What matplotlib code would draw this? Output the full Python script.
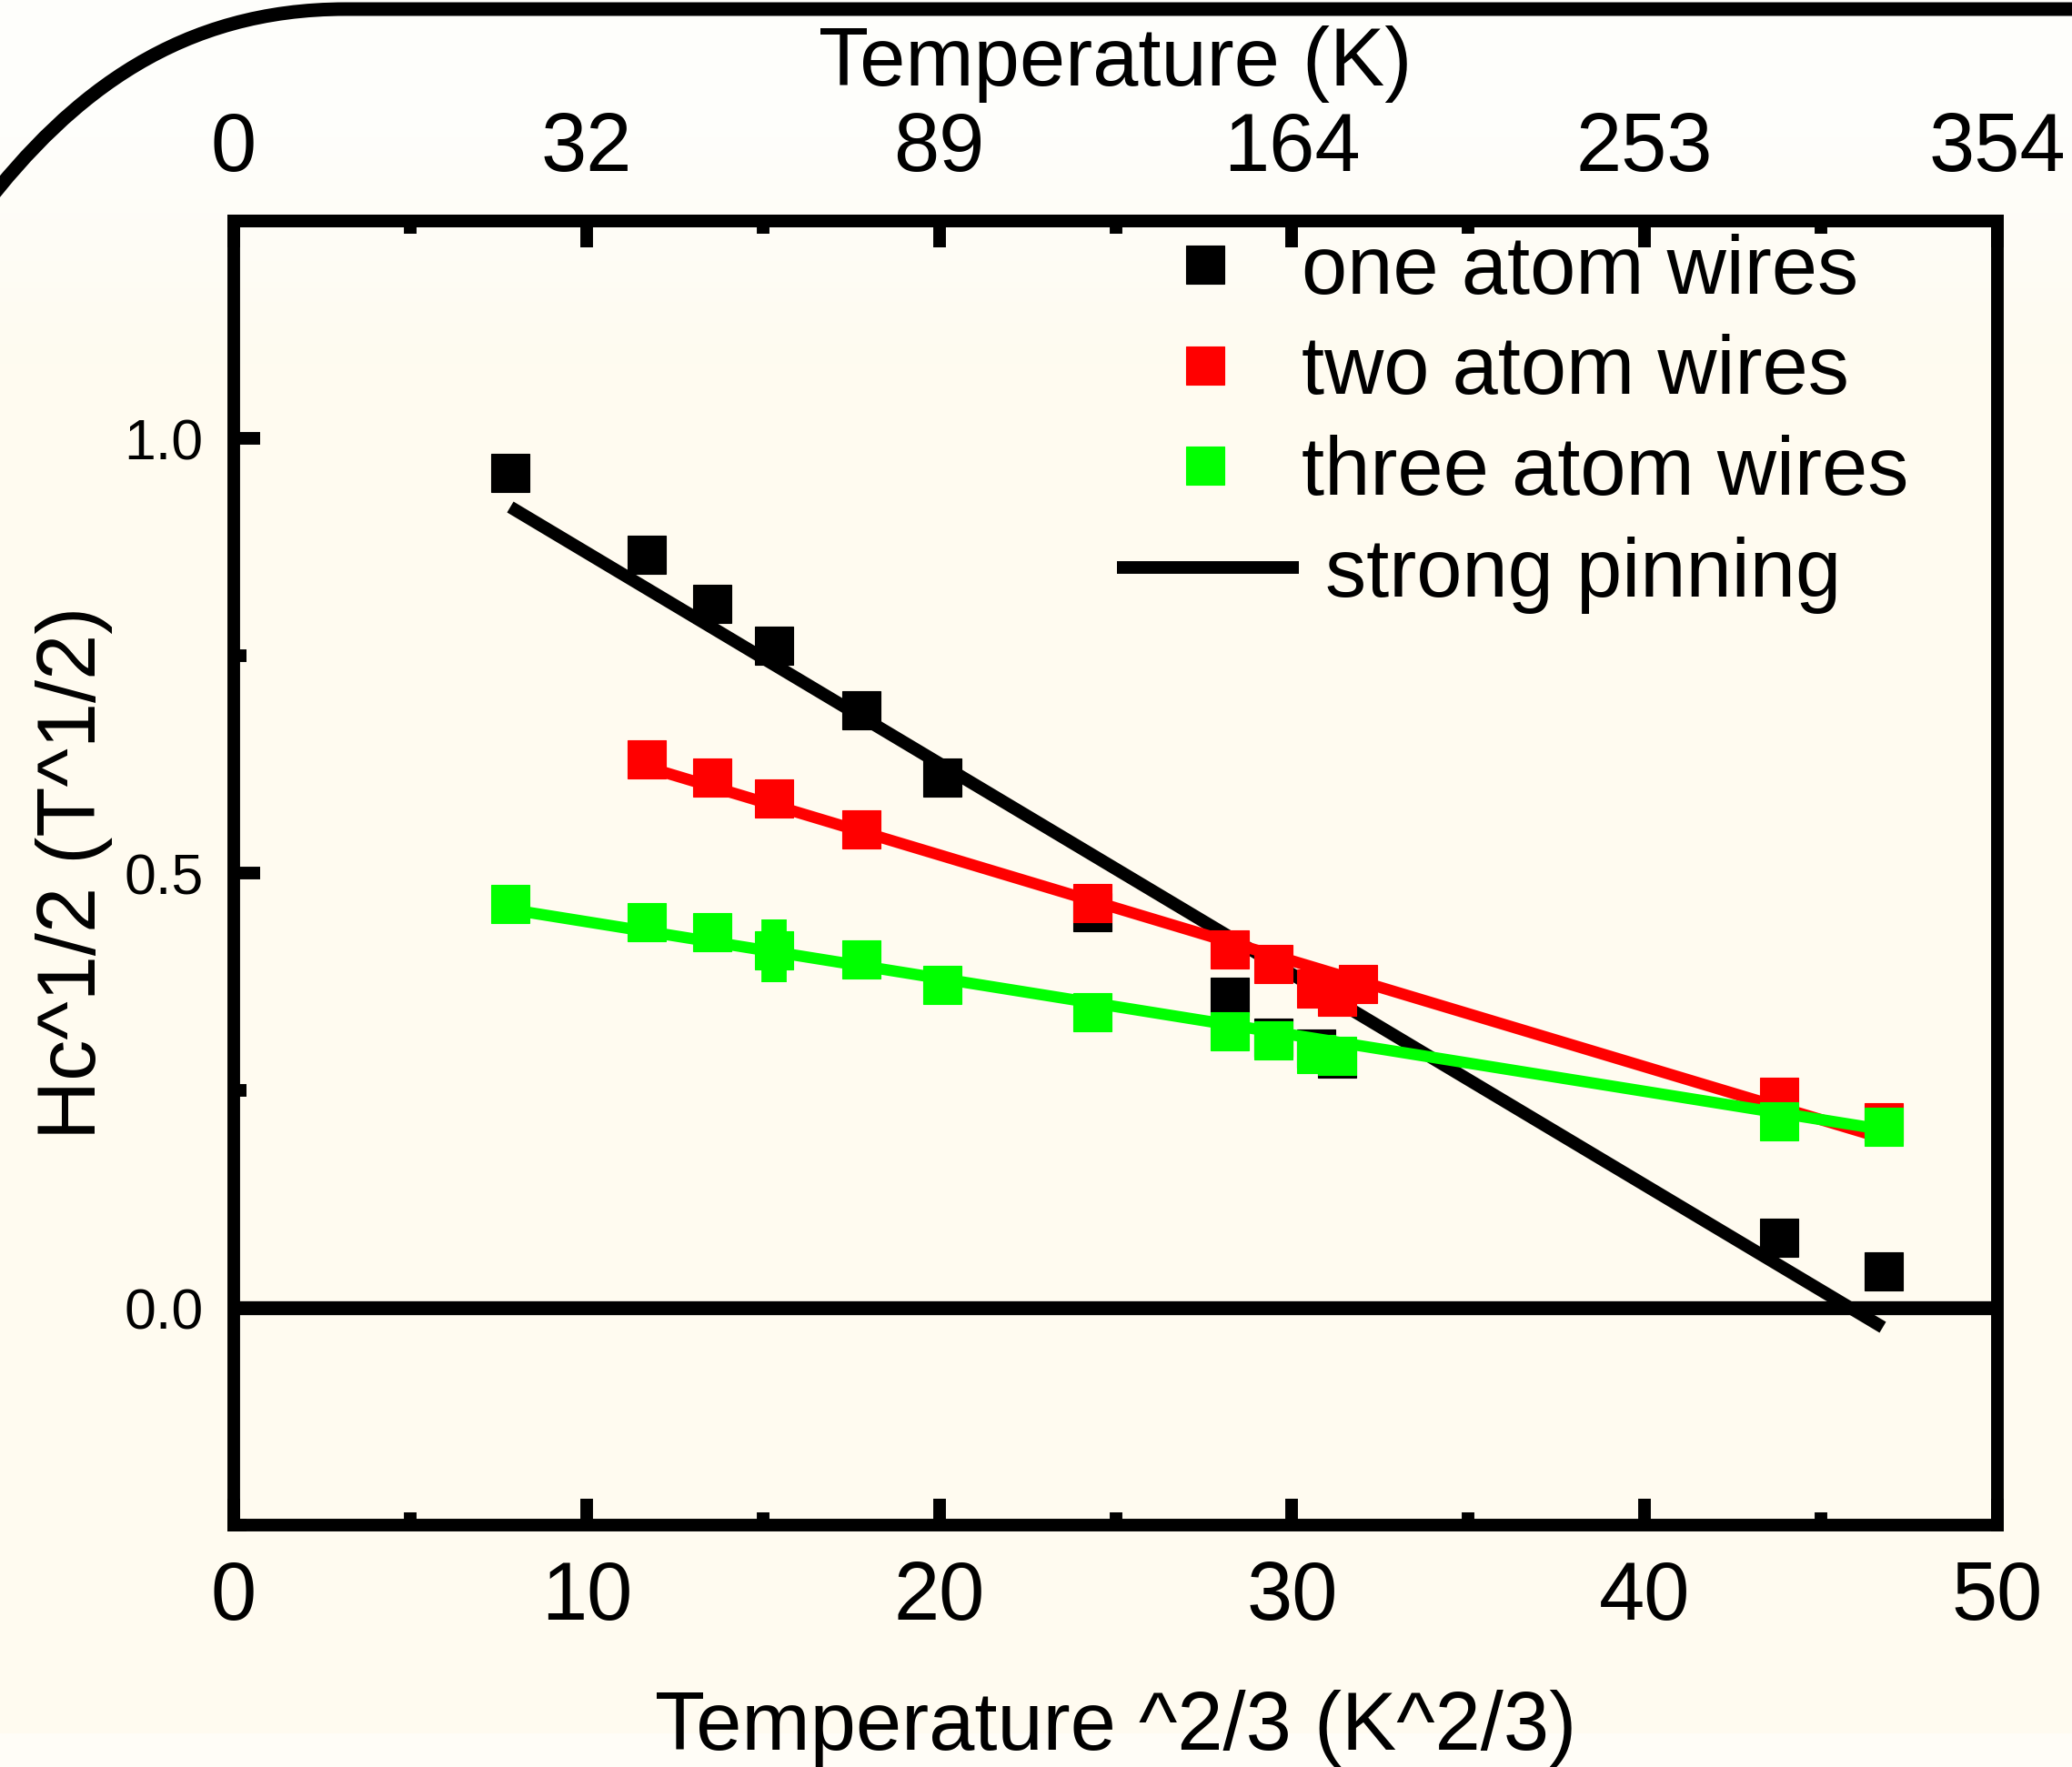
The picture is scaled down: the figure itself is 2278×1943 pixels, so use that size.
import numpy as np
import matplotlib
matplotlib.use("Agg")
import matplotlib.pyplot as plt
from matplotlib.path import Path
from matplotlib.patches import PathPatch
from matplotlib.ticker import MultipleLocator

plt.rcParams["font.family"] = ["Liberation Sans", "DejaVu Sans"]

# x axis is T^(2/3)
t23_one = [7.85, 11.70, 13.57, 15.33, 17.78, 20.08, 24.33, 28.23, 29.47, 30.68, 31.29, 43.80, 46.78]
hc_one = [0.960, 0.866, 0.810, 0.762, 0.687, 0.610, 0.455, 0.358, 0.311, 0.298, 0.287, 0.081, 0.042]

t23_two = [11.70, 13.57, 15.33, 17.78, 24.33, 28.23, 29.47, 30.68, 31.29, 31.88, 43.80, 46.78]
hc_two = [0.631, 0.610, 0.586, 0.550, 0.465, 0.412, 0.395, 0.367, 0.358, 0.372, 0.243, 0.213]

t23_three = [7.85, 11.70, 13.57, 15.33, 17.78, 20.08, 24.33, 28.23, 29.47, 30.68, 31.29, 43.80, 46.78]
hc_three = [0.464, 0.443, 0.432, 0.411, 0.401, 0.371, 0.340, 0.318, 0.308, 0.292, 0.290, 0.214, 0.208]
err_three = [0, 0, 0, 0.036, 0, 0, 0, 0, 0, 0, 0, 0, 0]

# straight fit lines (end points)
pin_x = [7.84, 46.75]
pin_y = [0.921, -0.0225]
fit_two_x = [11.70, 46.75]
fit_two_y = [0.622, 0.195]
fit_three_x = [7.85, 46.75]
fit_three_y = [0.458, 0.205]

x_ticks = [0, 10, 20, 30, 40, 50]
top_labels = ["0", "32", "89", "164", "253", "354"]
y_ticks = [0.0, 0.5, 1.0]
y_labels = ["0.0", "0.5", "1.0"]

labels = ["one atom wires", "two atom wires", "three atom wires", "strong pinning"]
colors = ["#000000", "#ff0000", "#00ff00"]

W, H = 2278, 1943
fig = plt.figure(figsize=(W / 100, H / 100), dpi=100)
fig.patch.set_facecolor("#fffbf0")

# soft background: whiter on top, cream below
bg = fig.add_axes([0, 0, 1, 1])
bg.set_zorder(-10)
bg.axis("off")
rows = np.arange(H)
white = np.array([254, 254, 251]) / 255
cream = np.array([255, 251, 240]) / 255
t = np.clip((rows - 150) / 250, 0, 1)[:, None]
grad = white * (1 - t) + cream * t
grad[1906:] = np.array([255, 253, 247]) / 255
bg.imshow(grad[:, None, :], aspect="auto", extent=[0, 1, 0, 1])

# rounded frame line across the top
def fpt(x, y):
    return (x / W, 1 - y / H)

verts = [fpt(-20, 230), fpt(80, 100), fpt(200, 10), fpt(380, 10), fpt(2300, 10)]
codes = [Path.MOVETO, Path.CURVE4, Path.CURVE4, Path.CURVE4, Path.LINETO]
fig.add_artist(PathPatch(Path(verts, codes), fill=False, lw=10.8, edgecolor="black",
                         transform=fig.transFigure, capstyle="butt"))

ax = fig.add_axes([257 / W, 1 - 1677 / H, (2196 - 257) / W, (1677 - 243) / H])
ax.set_facecolor("none")

ax.axhline(0, color="black", lw=11, zorder=1)

ax.plot(pin_x, pin_y, color="black", lw=10, solid_capstyle="butt", zorder=2)
h1, = ax.plot(t23_one, hc_one, ls="none", marker="s", ms=30, mew=0.8,
              color=colors[0], zorder=3, label=labels[0])
ax.plot(fit_two_x, fit_two_y, color=colors[1], lw=9, solid_capstyle="butt", zorder=4)
h2, = ax.plot(t23_two, hc_two, ls="none", marker="s", ms=30, mew=0.8,
              color=colors[1], zorder=5, label=labels[1])
ax.plot(fit_three_x, fit_three_y, color=colors[2], lw=9, solid_capstyle="butt", zorder=6)
ax.errorbar(t23_three, hc_three, yerr=err_three, fmt="none", ecolor=colors[2],
            elinewidth=20, capsize=0, zorder=7)
h3, = ax.plot(t23_three, hc_three, ls="none", marker="s", ms=30, mew=0.8,
              color=colors[2], zorder=7, label=labels[2])
h4, = ax.plot([], [], color="black", lw=10, solid_capstyle="butt", label=labels[3])

ax.set_xlim(0, 50)
ax.set_ylim(-0.25, 1.25)

for s in ax.spines.values():
    s.set_linewidth(10)

ax.set_xticks(x_ticks)
ax.xaxis.set_minor_locator(MultipleLocator(5))
ax.set_yticks(y_ticks, labels=y_labels)
ax.yaxis.set_minor_locator(MultipleLocator(0.25))
ax.tick_params(axis="x", which="both", direction="in", top=False, bottom=True, width=10)
ax.tick_params(axis="x", which="major", length=21, pad=27, labelsize=65)
ax.tick_params(axis="x", which="minor", length=10)
ax.tick_params(axis="y", which="both", direction="in", left=True, right=False, width=10)
ax.tick_params(axis="y", which="major", length=21, pad=24, labelsize=45)
ax.tick_params(axis="y", which="minor", length=10)

ax.set_xlabel("Temperature ^2/3 (K^2/3)", fontsize=65)
ax.xaxis.set_label_coords(0.5, -0.126)
ax.set_ylabel("Hc^1/2 (T^1/2)", fontsize=65)
ax.yaxis.set_label_coords(-0.0686, 0.5)

sec = ax.secondary_xaxis("top")
sec.set_xticks(x_ticks, labels=top_labels)
sec.xaxis.set_minor_locator(MultipleLocator(5))
sec.tick_params(which="both", direction="in", width=10)
sec.tick_params(which="major", length=21, pad=26, labelsize=65)
sec.tick_params(which="minor", length=10)
sec.spines["top"].set_linewidth(10)
sec.set_xlabel("Temperature (K)", fontsize=65)
sec.xaxis.set_label_coords(0.5, 1.104, transform=ax.transAxes)

leg1 = ax.legend(handles=[h1, h2, h3], loc="upper left", frameon=False,
                 bbox_to_anchor=(1280 / W, 1 - 257 / H), bbox_transform=fig.transFigure,
                 borderpad=0, borderaxespad=0, fontsize=65, numpoints=1,
                 handlelength=1.0, handletextpad=0.675, labelspacing=0.28)
ax.add_artist(leg1)
ax.legend(handles=[h4], loc="upper left", frameon=False,
          bbox_to_anchor=(1228 / W, 1 - 590 / H), bbox_transform=fig.transFigure,
          borderpad=0, borderaxespad=0, fontsize=65,
          handlelength=2.215, handletextpad=0.32)

fig.savefig("out.png", dpi=100, facecolor=fig.get_facecolor())
